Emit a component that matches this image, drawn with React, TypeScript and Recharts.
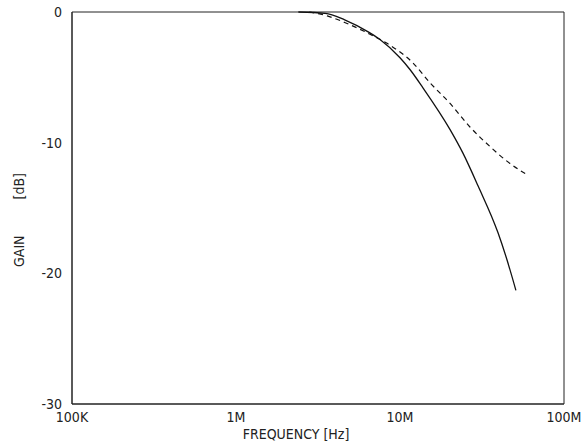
import React from 'react';
import { LineChart, Line, XAxis, YAxis, ReferenceArea } from 'recharts';

// frequency in Hz, gain in dB
const solidFreq = [2.4e6, 3.5e6, 4.6e6, 6.56e6, 7.55e6, 10e6, 11.5e6, 13.8e6, 20.2e6, 24.2e6, 29.9e6, 39.6e6, 45e6, 50.9e6];
const solidGain = [0, -0.1, -0.6, -1.6, -2.1, -3.5, -4.4, -5.8, -9.0, -10.8, -13.3, -16.9, -19.0, -21.3];

const dashedFreq = [2.8e6, 3.6e6, 4.6e6, 6.56e6, 8.34e6, 12e6, 15.2e6, 20.2e6, 26.7e6, 35.4e6, 46.9e6, 60.3e6];
const dashedGain = [0, -0.3, -0.8, -1.7, -2.4, -3.9, -5.4, -7.0, -8.8, -10.3, -11.6, -12.5];

const xTicks = [1e5, 1e6, 1e7, 1e8];
const xTickLabels = ['100K', '1M', '10M', '100M'];
const yTicks = [0, -10, -20, -30];

const solidData = solidFreq.map((f, i) => ({ f, gain: solidGain[i] }));
const dashedData = dashedFreq.map((f, i) => ({ f, gain: dashedGain[i] }));

const FONT = "'Liberation Sans Narrow', 'DejaVu Sans Condensed', 'DejaVu Sans', sans-serif";
const INK = '#222';

// rotated y label, GAIN below and [dB] above like the plotter original
const GainLabel = (props: any) => {
    const vb = props.viewBox || { x: 0, y: 0, width: 0, height: 0 };
    const x = vb.x + 9;
    const y = vb.y + vb.height / 2 + 12;
    return (
        <text
            x={x}
            y={y}
            transform={`rotate(-90 ${x} ${y})`}
            textAnchor="middle"
            dominantBaseline="central"
            fill={INK}
            fontSize={14}
            fontFamily={FONT}
            style={{ whiteSpace: 'pre' }}
        >
            {'GAIN         [dB]'}
        </text>
    );
};

const App: React.FC = () => {
    return (
        <div style={{ position: 'absolute', left: 0, top: 0, width: 584, height: 443, background: '#fff' }}>
            <LineChart width={584} height={443} margin={{ top: 12, right: 20, bottom: 14, left: 10 }}>
                <XAxis
                    type="number"
                    dataKey="f"
                    scale="log"
                    domain={[1e5, 1e8]}
                    ticks={xTicks}
                    tickFormatter={(v: number) => xTickLabels[xTicks.indexOf(v)] ?? ''}
                    tickLine={false}
                    axisLine={{ stroke: INK }}
                    allowDataOverflow
                    height={25}
                    tick={{ fill: INK, fontSize: 14, fontFamily: FONT }}
                    tickMargin={2}
                    label={{ value: 'FREQUENCY [Hz]', position: 'insideBottom', offset: -10, dx: -22, fill: INK, fontSize: 14, fontFamily: FONT }}
                />
                <YAxis
                    type="number"
                    domain={[-30, 0]}
                    ticks={yTicks}
                    tickLine={false}
                    axisLine={{ stroke: INK }}
                    width={62}
                    tick={{ fill: INK, fontSize: 14, fontFamily: FONT }}
                    tickMargin={4}
                    label={<GainLabel />}
                />
                <ReferenceArea x1={1e5} x2={1e8} y1={-30} y2={0} fill="none" stroke={INK} strokeWidth={1} />
                <Line
                    data={solidData}
                    type="monotone"
                    dataKey="gain"
                    stroke="#111"
                    strokeWidth={1.3}
                    dot={false}
                    isAnimationActive={false}
                />
                <Line
                    data={dashedData}
                    type="monotone"
                    dataKey="gain"
                    stroke="#111"
                    strokeWidth={1.2}
                    strokeDasharray="5 4"
                    dot={false}
                    isAnimationActive={false}
                />
            </LineChart>
        </div>
    );
};

export default App;
